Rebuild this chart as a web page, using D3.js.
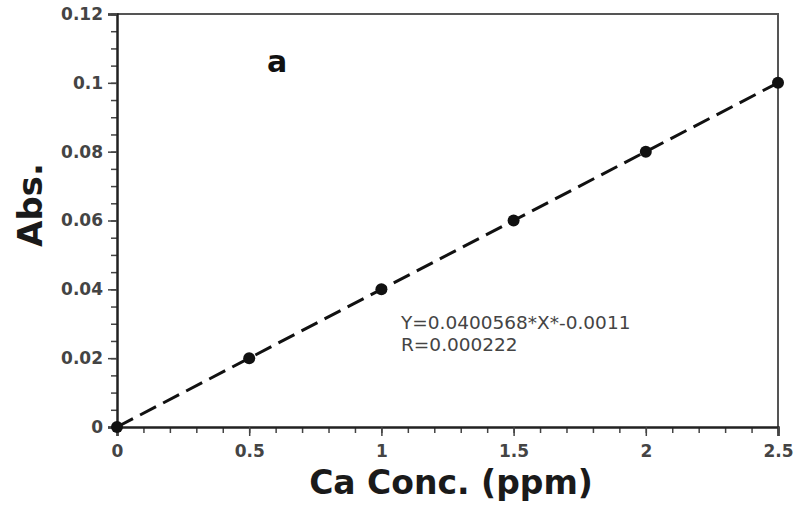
<!DOCTYPE html>
<html>
<head>
<meta charset="utf-8">
<script src="https://cdn.jsdelivr.net/npm/d3@7"></script>
<style>
  body { margin: 0; background: #fff; }
  text { font-family: "DejaVu Sans", Verdana, sans-serif; }
</style>
</head>
<body>
<div id="chart"></div>
<script>
// Ca calibration data
const conc = [0, 0.5, 1, 1.5, 2, 2.5];
const absorb = [0, 0.02, 0.04, 0.06, 0.08, 0.1];
const xTicks = [0, 0.5, 1, 1.5, 2, 2.5];
const yTicks = [0, 0.02, 0.04, 0.06, 0.08, 0.1, 0.12];
const eqLines = ["Y=0.0400568*X*-0.0011", "R=0.000222"];

const width = 795, height = 510;
const margin = { top: 14, right: 17, bottom: 83, left: 117 };

const svg = d3.select("#chart").append("svg")
  .attr("width", width)
  .attr("height", height);

const x = d3.scaleLinear().domain([0, 2.5]).range([margin.left, width - margin.right]);
const y = d3.scaleLinear().domain([0, 0.12]).range([height - margin.bottom, margin.top]);

// frame (top / right)
svg.append("path")
  .attr("d", `M${x(0)},${y(0.12)}H${x(2.5)}V${y(0)}`)
  .attr("fill", "none")
  .attr("stroke", "#555")
  .attr("stroke-width", 2);

// minor ticks
svg.append("g")
  .attr("transform", `translate(0,${y(0)})`)
  .call(d3.axisBottom(x).tickValues(d3.range(0, 2.51, 0.1)).tickSize(6).tickFormat(""))
  .call(g => g.select(".domain").remove())
  .call(g => g.selectAll("line").attr("stroke", "#444").attr("stroke-width", 1.5));
svg.append("g")
  .attr("transform", `translate(${x(0)},0)`)
  .call(d3.axisLeft(y).tickValues(d3.range(0, 0.1201, 0.005)).tickSize(6).tickFormat(""))
  .call(g => g.select(".domain").remove())
  .call(g => g.selectAll("line").attr("stroke", "#444").attr("stroke-width", 1.5));

// major axes
const xAxis = svg.append("g")
  .attr("transform", `translate(0,${y(0)})`)
  .call(d3.axisBottom(x).tickValues(xTicks).tickSize(9).tickPadding(9).tickFormat(d => d3.format("")(d)));
const yAxis = svg.append("g")
  .attr("transform", `translate(${x(0)},0)`)
  .call(d3.axisLeft(y).tickValues(yTicks).tickSize(9).tickPadding(5).tickFormat(d => d3.format("")(d)));

[xAxis, yAxis].forEach(g => {
  g.select(".domain").attr("stroke", "#222").attr("stroke-width", 2.5);
  g.selectAll(".tick line").attr("stroke", "#444").attr("stroke-width", 1.5);
  g.selectAll(".tick text")
    .attr("fill", "#444")
    .attr("font-size", 17)
    .attr("font-weight", "bold")
    .style("font-family", "DejaVu Sans, sans-serif");
});

// dashed fit line
const line = d3.line().x((d, i) => x(conc[i])).y(d => y(d));
svg.append("path")
  .datum(absorb)
  .attr("d", line)
  .attr("fill", "none")
  .attr("stroke", "#111")
  .attr("stroke-width", 3)
  .attr("stroke-dasharray", "18,8");

// points
svg.append("g").selectAll("circle")
  .data(absorb)
  .join("circle")
  .attr("cx", (d, i) => x(conc[i]))
  .attr("cy", d => y(d))
  .attr("r", 6)
  .attr("fill", "#111");

// panel label
svg.append("text")
  .attr("x", 277).attr("y", 72)
  .attr("text-anchor", "middle")
  .attr("font-size", 30)
  .attr("font-weight", "bold")
  .attr("fill", "#111")
  .text("a");

// equation
svg.append("g").selectAll("text")
  .data(eqLines)
  .join("text")
  .attr("x", 401)
  .attr("y", (d, i) => 329 + i * 22)
  .attr("font-size", 18.5)
  .attr("fill", "#444")
  .text(d => d);

// axis titles
svg.append("text")
  .attr("x", 451)
  .attr("y", 494)
  .attr("text-anchor", "middle")
  .attr("font-size", 33)
  .attr("font-weight", "bold")
  .attr("fill", "#1a1a1a")
  .text("Ca Conc. (ppm)");

svg.append("text")
  .attr("transform", `translate(42,205) rotate(-90)`)
  .attr("text-anchor", "middle")
  .attr("font-size", 34)
  .attr("font-weight", "bold")
  .attr("fill", "#1a1a1a")
  .text("Abs.");
</script>
</body>
</html>
